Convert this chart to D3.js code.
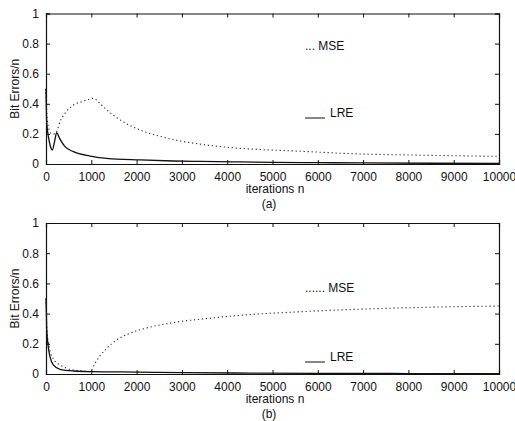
<!DOCTYPE html>
<html>
<head>
<meta charset="utf-8">
<script src="https://cdn.jsdelivr.net/npm/d3@7"></script>
<style>
  html, body { margin: 0; padding: 0; background: #fff; }
  svg { display: block; }
  text { font-family: "Liberation Sans", Arial, Helvetica, sans-serif; fill: #111; }
</style>
</head>
<body>
<svg id="chart" width="515" height="421"></svg>
<script>
// Iteration grid and bit-error ratios for panel (a)
const iterA_mse = [0, 15, 40, 80, 130, 190, 235, 309, 420, 604, 800, 950, 1045, 1200, 1340, 1707, 2075, 2443, 2885, 3570, 4160, 4500, 5600, 6711, 8000, 9000, 10000];
const mseA      = [0.50, 0.36, 0.27, 0.22, 0.20, 0.20, 0.215, 0.28, 0.337, 0.392, 0.415, 0.43, 0.437, 0.40, 0.36, 0.28, 0.226, 0.19, 0.158, 0.125, 0.107, 0.10, 0.085, 0.069, 0.06, 0.055, 0.051];
const iterA_lre = [0, 15, 60, 100, 140, 190, 235, 300, 420, 604, 971, 1340, 2075, 2810, 3420, 4160, 5000, 6000, 7000, 8500, 10000];
const lreA      = [0.50, 0.28, 0.17, 0.115, 0.093, 0.15, 0.208, 0.17, 0.115, 0.082, 0.053, 0.038, 0.027, 0.02, 0.017, 0.014, 0.011, 0.009, 0.007, 0.005, 0.004];

// Iteration grid and bit-error ratios for panel (b)
const iterB_mse = [0, 20, 52, 100, 161, 230, 309, 420, 530, 680, 824, 971, 1082, 1192, 1340, 1560, 1854, 2222, 2664, 2958, 3570, 4160, 4680, 5600, 6711, 7800, 8918, 10000];
const mseB      = [0.50, 0.30, 0.21, 0.14, 0.10, 0.075, 0.06, 0.043, 0.031, 0.024, 0.02, 0.015, 0.07, 0.12, 0.17, 0.225, 0.27, 0.305, 0.333, 0.347, 0.368, 0.385, 0.397, 0.412, 0.427, 0.437, 0.445, 0.45];
const iterB_lre = [0, 8, 15, 50, 88, 161, 309, 604, 1015, 2000, 3000, 4500, 6000, 8000, 10000];
const lreB      = [0.50, 0.42, 0.30, 0.18, 0.115, 0.06, 0.031, 0.02, 0.016, 0.013, 0.009, 0.006, 0.004, 0.003, 0.002];

const xTicks = [0, 1000, 2000, 3000, 4000, 5000, 6000, 7000, 8000, 9000, 10000];
const yTicks = [0, 0.2, 0.4, 0.6, 0.8, 1];

const panels = [
  { top: 13.5, bottom: 164, tag: "(a)", mseIter: iterA_mse, mse: mseA, lreIter: iterA_lre, lre: lreA,
    mseLegend: { x: 305, y: 50, text: "... MSE" }, lreLegend: { x: 305, y: 117 } },
  { top: 223, bottom: 374, tag: "(b)", mseIter: iterB_mse, mse: mseB, lreIter: iterB_lre, lre: lreB,
    mseLegend: { x: 305, y: 292, text: "...... MSE" }, lreLegend: { x: 305, y: 361 } }
];

const svg = d3.select("#chart");
const left = 46, right = 499;
const x = d3.scaleLinear().domain([0, 10000]).range([left, right]);
const fmtY = d => (d === 0 || d === 1) ? String(d) : d.toFixed(1);

panels.forEach(p => {
  const y = d3.scaleLinear().domain([0, 1]).range([p.bottom, p.top]);
  const g = svg.append("g");

  // Data lines
  const line = d3.line().x(d => x(d[0])).y(d => y(d[1])).curve(d3.curveMonotoneX);
  g.append("path")
    .datum(p.mseIter.map((n, i) => [n, p.mse[i]]))
    .attr("d", line).attr("fill", "none")
    .attr("stroke", "#222").attr("stroke-width", 1.1)
    .attr("stroke-dasharray", "1.2,2.8");
  g.append("path")
    .datum(p.lreIter.map((n, i) => [n, p.lre[i]]))
    .attr("d", line).attr("fill", "none")
    .attr("stroke", "#111").attr("stroke-width", 1.3);

  // Axes with inward ticks on all four sides
  const axB = d3.axisBottom(x).tickValues(xTicks).tickSize(-4).tickPadding(8).tickFormat(d3.format("d"));
  const axT = d3.axisTop(x).tickValues(xTicks).tickSize(-4).tickFormat("");
  const axL = d3.axisLeft(y).tickValues(yTicks).tickSize(-4).tickPadding(7).tickFormat(fmtY);
  const axR = d3.axisRight(y).tickValues(yTicks).tickSize(-4).tickFormat("");

  [[axB, `translate(0,${p.bottom})`], [axT, `translate(0,${p.top})`],
   [axL, `translate(${left},0)`], [axR, `translate(${right},0)`]].forEach(([ax, tr]) => {
    const a = g.append("g").attr("transform", tr).call(ax);
    a.select(".domain").attr("stroke", "#111").attr("stroke-width", 1.2);
    a.selectAll(".tick line").attr("stroke", "#111").attr("stroke-width", 1);
    a.selectAll(".tick text").attr("font-size", 12).attr("fill", "#111")
      .attr("font-family", "'Liberation Sans', Arial, sans-serif");
  });

  // Axis titles
  g.append("text")
    .attr("transform", `translate(19,${(p.top + p.bottom) / 2}) rotate(-90)`)
    .attr("text-anchor", "middle").attr("font-size", 12).text("Bit Errors/n");
  g.append("text")
    .attr("x", 275).attr("y", p.bottom + 29)
    .attr("text-anchor", "middle").attr("font-size", 12).text("iterations n");
  g.append("text")
    .attr("x", 269).attr("y", p.bottom + 44)
    .attr("text-anchor", "middle").attr("font-size", 12).text(p.tag);

  // Legend labels
  g.append("text").attr("x", p.mseLegend.x).attr("y", p.mseLegend.y)
    .attr("font-size", 12).text(p.mseLegend.text);
  g.append("line")
    .attr("x1", p.lreLegend.x).attr("x2", p.lreLegend.x + 20)
    .attr("y1", p.lreLegend.y + 1).attr("y2", p.lreLegend.y + 1)
    .attr("stroke", "#111").attr("stroke-width", 1);
  g.append("text").attr("x", p.lreLegend.x + 25).attr("y", p.lreLegend.y)
    .attr("font-size", 12).text("LRE");
});
</script>
</body>
</html>
